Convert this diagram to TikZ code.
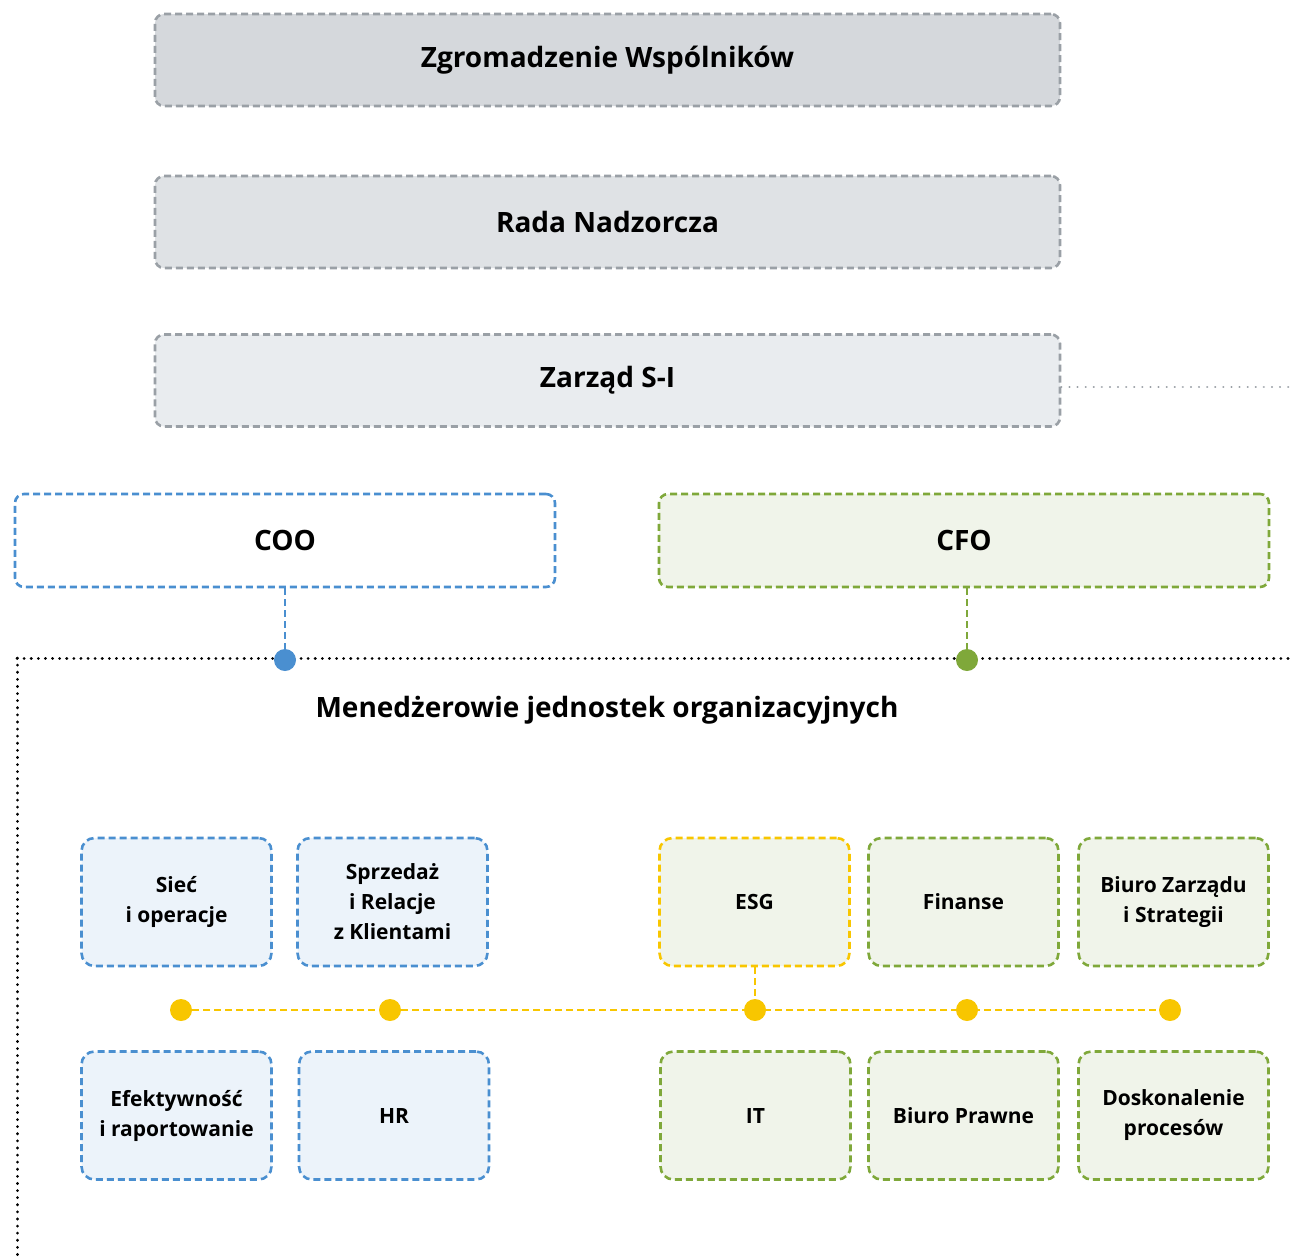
\documentclass[tikz,border=0pt]{standalone}
\usepackage{fontspec}
\setmainfont{Open Sans}
\usetikzlibrary{positioning}
\definecolor{boardline}{HTML}{9AA0A6}
\definecolor{fillzg}{HTML}{D5D8DC}
\definecolor{fillrada}{HTML}{DFE2E5}
\definecolor{fillzarz}{HTML}{E9ECEF}
\definecolor{cooblue}{HTML}{4A8FD0}
\definecolor{coofill}{HTML}{ECF3FA}
\definecolor{cfogreen}{HTML}{7FA83A}
\definecolor{cfofill}{HTML}{F0F4EA}
\definecolor{esgyellow}{HTML}{F8C600}

\begin{document}
\begin{tikzpicture}[x=1pt,y=-1pt,
  bigbox/.style={draw, dash pattern=on 7pt off 4pt, line width=2.6pt, rounded corners=9pt,
    inner sep=0pt, font=\bfseries\fontsize{28}{32}\selectfont},
  unitbox/.style={draw, dash pattern=on 7pt off 4pt, line width=2.6pt, rounded corners=13pt,
    inner sep=0pt, minimum width=190pt, minimum height=128pt, align=center,
    font=\bfseries\fontsize{21}{30}\selectfont},
  dot/.style={circle, fill, inner sep=0pt, minimum size=22pt},
  fineline/.style={dash pattern=on 0.1pt off 7pt, line cap=round, line width=3pt}]
\useasboundingbox (0,0) rectangle (1290,1256);

% organy spolki
\node[bigbox, draw=boardline, fill=fillzg, minimum width=905pt, minimum height=92pt]
  (zgrom) at (607.5,60) {Zgromadzenie Wspólników};
\node[bigbox, draw=boardline, fill=fillrada, minimum width=905pt, minimum height=92pt]
  (rada) at (607.5,222) {Rada Nadzorcza};
\node[bigbox, draw=boardline, fill=fillzarz, minimum width=905pt, minimum height=92pt]
  (zarzad) at (607.5,380.5) {Zarząd S-I};
\coordinate (zarzadend) at (1290,387);
\draw[fineline, draw=boardline, line width=2.2pt, dash pattern=on 0.1pt off 8pt] (zarzad.east |- zarzadend) -- (zarzadend);

% dyrektorzy
\node[bigbox, draw=cooblue, fill=white, minimum width=540pt, minimum height=93pt]
  (coo) at (285,540.5) {COO};
\node[bigbox, draw=cfogreen, fill=cfofill, minimum width=610pt, minimum height=93pt]
  (cfo) at (964,540.5) {CFO};

% linia menedzerow
\coordinate (pcoo) at (285,660);
\coordinate (pcfo) at (967,660);
\coordinate (mleft) at (17,658);
\coordinate (mright) at (1290,658);
\coordinate (mbottom) at (17,1256);
\draw[fineline] (mleft) -- (mright);
\draw[fineline] (mleft) -- (mbottom);
\draw[cooblue, line width=2.6pt, dash pattern=on 7pt off 4pt] (coo.south) -- (pcoo);
\draw[cfogreen, line width=2.6pt, dash pattern=on 7pt off 4pt] (cfo.south -| pcfo) -- (pcfo);
\node[dot, fill=cooblue] (dcoo) at (pcoo) {};
\node[dot, fill=cfogreen] (dcfo) at (pcfo) {};

\node[font=\bfseries\fontsize{28}{32}\selectfont] (mened) at (607,710)
  {Menedżerowie jednostek organizacyjnych};

% jednostki
\node[unitbox, draw=cooblue, fill=coofill] (siec) at (176.5,902) {Sieć\\i operacje};
\node[unitbox, draw=cooblue, fill=coofill] (sprzed) at (392.5,902) {Sprzedaż\\i Relacje\\z Klientami};
\node[unitbox, draw=esgyellow, fill=cfofill] (esg) at (754.5,902) {ESG};
\node[unitbox, draw=cfogreen, fill=cfofill] (finanse) at (963.5,902) {Finanse};
\node[unitbox, draw=cfogreen, fill=cfofill] (biuro) at (1173.5,902) {Biuro Zarządu\\i Strategii};

\node[unitbox, draw=cooblue, fill=coofill] (efekt) at (176.5,1115.5) {Efektywność\\i raportowanie};
\node[unitbox, draw=cooblue, fill=coofill] (hr) at (394,1115.5) {HR};
\node[unitbox, draw=cfogreen, fill=cfofill] (it) at (755.5,1115.5) {IT};
\node[unitbox, draw=cfogreen, fill=cfofill] (prawne) at (963.5,1115.5) {Biuro Prawne};
\node[unitbox, draw=cfogreen, fill=cfofill] (doskon) at (1173.5,1115.5) {Doskonalenie\\procesów};

% os ESG
\coordinate (y1) at (181,1010);
\coordinate (y2) at (390,1010);
\coordinate (y3) at (755,1010);
\coordinate (y4) at (967,1010);
\coordinate (y5) at (1170,1010);
\draw[esgyellow, line width=2.6pt, dash pattern=on 7pt off 4pt] (y1) -- (y5);
\draw[esgyellow, line width=2.6pt, dash pattern=on 7pt off 4pt] (esg.south -| y3) -- (y3);
\foreach \p in {y1,y2,y3,y4,y5}
  \node[dot, fill=esgyellow] (d\p) at (\p) {};
\end{tikzpicture}
\end{document}
